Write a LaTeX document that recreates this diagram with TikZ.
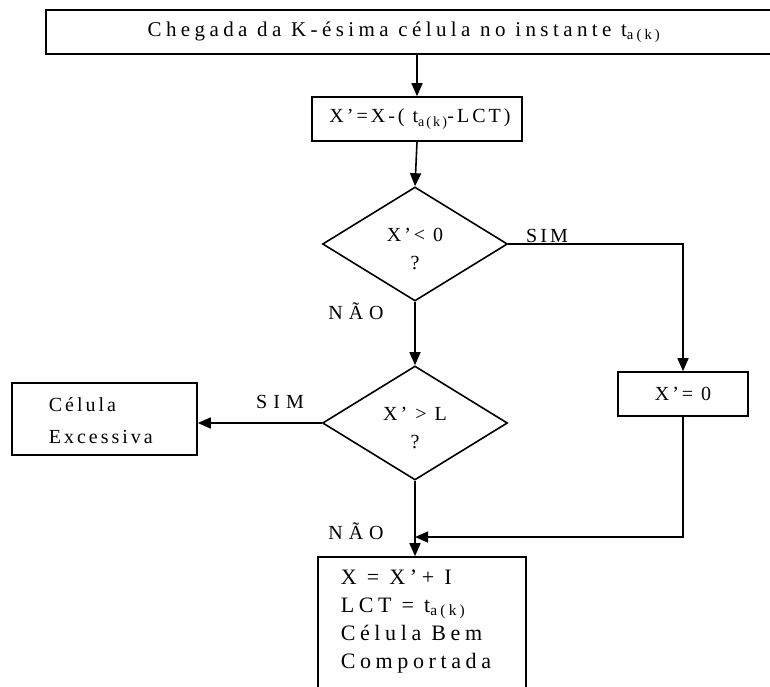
\documentclass[tikz,border=0pt]{standalone}
\usepackage{fontspec}
\setmainfont{Liberation Serif}[LetterSpace=15]
\newfontfamily\widefont{Liberation Serif}[LetterSpace=21, Ligatures=TeX]
\newfontfamily\widerfont{Liberation Serif}[LetterSpace=30, Ligatures=TeX]
\usetikzlibrary{arrows.meta,shapes.geometric}
\begin{document}
\begin{tikzpicture}[x=1pt,y=-1pt,
  line width=1.6pt,
  box/.style={draw, rectangle, inner sep=0pt},
  decision/.style={draw, diamond, inner sep=0pt, minimum width=185pt,
    minimum height=114pt},
  words/.style={font=\fontsize{20}{28}\selectfont, inner sep=0pt, align=left},
  branch/.style={words, font=\fontsize{20}{28}\widerfont},
  flow/.style={-{Triangle[length=13pt,width=11pt]}}]
\useasboundingbox (0,0) rectangle (770,687);
\newcommand{\tak}{t\textsubscript{a(k)}}

% process boxes and decisions
\node[box, minimum width=730pt, minimum height=44pt] (start) at (411,32) {};
\node[words, font=\fontsize{21}{28}\widefont] (starttxt) at (404,32)
  {Chegada da K-ésima célula no instante \tak};
\node[box, minimum width=210pt, minimum height=44pt] (upd) at (417,119) {};
\node[words] (updtxt) at (420,119) {X'=X-( \tak-LCT)};
\node[decision] (neg) at (415,244) {};
\node[words, align=center] (negtxt) at (415,249) {X'< 0\\?};
\node[box, minimum width=130pt, minimum height=44pt] (zero) at (683,394) {};
\node[words] (zerotxt) at (683,394) {X'= 0};
\node[decision] (over) at (415,423) {};
\node[words, align=center] (overtxt) at (415,428) {X' > L\\?};
\node[box, minimum width=185pt, minimum height=72pt] (exc) at (104.5,419) {};
\node[words, anchor=west, font=\fontsize{20}{32}\selectfont] (exctxt) at (48,421)
  {Célula\\Excessiva};
\node[box, minimum width=208pt, minimum height=150pt] (ok) at (422,632) {};
\node[words, anchor=north west, font=\fontsize{22}{28}\widefont] (oktxt) at (340,569)
  {X = X'+ I\\LCT = \tak\\Célula Bem\\Comportada};

% branch labels
\node[words] (sim1) at (547,236) {SIM};
\node[branch] (nao1) at (356,311) {NÃO};
\node[branch] (sim2) at (280,402) {SIM};
\node[branch] (nao2) at (356,531) {NÃO};

% connectors
\coordinate (join) at (neg.south |- 0,537);
\draw[flow] (start.south -| upd.north) -- (upd.north);
\draw[flow] (upd.south) -- (neg.north);
\draw[flow] (neg.east) -| (zero.north);
\draw[flow] (neg.south) -- (over.north);
\draw[flow] (over.west) -- (over.west -| exc.east);
\draw[flow] (over.south) -- (ok.north -| over.south);
\draw[flow] (zero.south) |- (join);
\end{tikzpicture}
\end{document}
